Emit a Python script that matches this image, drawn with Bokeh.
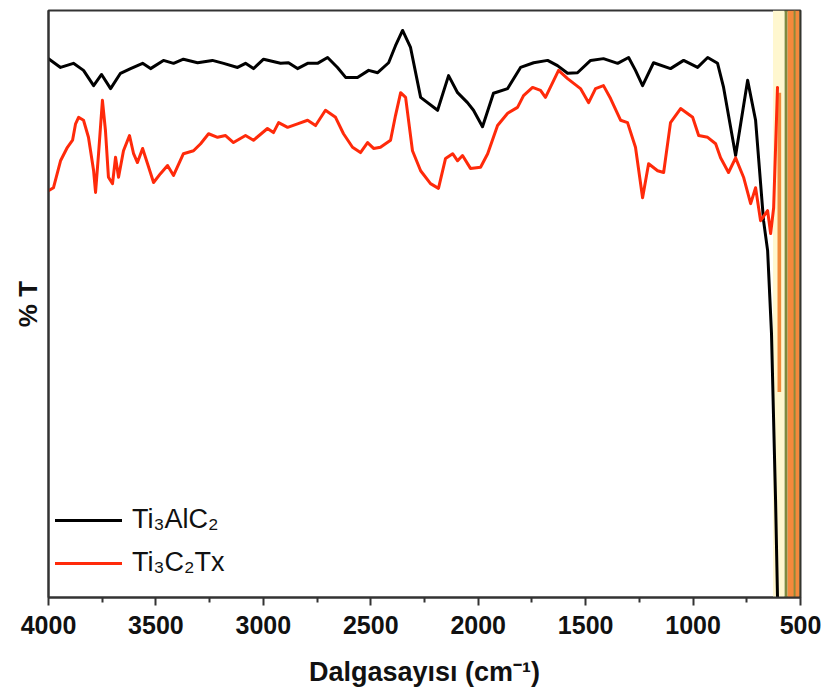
from bokeh.plotting import figure
from bokeh.models import Range1d, Legend, LegendItem, FixedTicker, ColumnDataSource
from bokeh.embed import file_html
from bokeh.resources import INLINE

# Ti3AlC2 spectrum (wavenumber cm-1, %T arbitrary units)
wn_ti3alc2 = [4000, 3944, 3884, 3837, 3790, 3753, 3711, 3665, 3618, 3562, 3525, 3465, 3418,
              3372, 3306, 3237, 3185, 3120, 3083, 3046, 2999, 2920, 2883, 2841, 2794, 2748,
              2701, 2655, 2617, 2562, 2510, 2468, 2417, 2385, 2352, 2315, 2268, 2189, 2138,
              2096, 2050, 2022, 1980, 1929, 1863, 1803, 1742, 1677, 1631, 1584, 1538, 1477,
              1417, 1351, 1300, 1268, 1235, 1184, 1105, 1044, 979, 932, 886, 858, 802, 746,
              709, 672, 653, 635, 616, 607]
t_ti3alc2 = [91.8, 90.3, 91.0, 89.8, 87.2, 89.1, 86.7, 89.3, 90.1, 91.0, 90.1, 91.5, 91.0,
             91.7, 91.1, 91.5, 91.0, 90.3, 91.0, 90.1, 91.7, 91.0, 91.1, 90.1, 91.0, 91.0,
             92.0, 90.3, 88.6, 88.6, 89.8, 89.4, 91.1, 94.0, 96.6, 93.7, 85.2, 83.0, 88.9,
             86.0, 84.3, 83.0, 80.2, 85.9, 86.7, 90.3, 91.1, 91.5, 90.6, 89.3, 89.4, 91.5,
             91.8, 91.0, 92.0, 89.8, 87.2, 91.1, 90.1, 91.5, 90.3, 92.0, 91.0, 86.9, 75.3, 88.1,
             81.3, 64.2, 59.1, 45.0, 16.5, 0.0]

# Ti3C2Tx spectrum
wn_ti3c2tx = [4000, 3977, 3944, 3912, 3888, 3874, 3860, 3837, 3814, 3790, 3781, 3767, 3749,
              3735, 3721, 3702, 3688, 3674, 3651, 3623, 3604, 3586, 3562, 3539, 3511, 3479,
              3446, 3418, 3372, 3325, 3292, 3255, 3213, 3176, 3139, 3083, 3046, 2981, 2953,
              2929, 2887, 2841, 2794, 2757, 2711, 2664, 2627, 2585, 2548, 2515, 2487, 2455,
              2408, 2385, 2361, 2338, 2306, 2268, 2222, 2185, 2152, 2119, 2096, 2073, 2036,
              1989, 1956, 1910, 1863, 1817, 1789, 1747, 1710, 1687, 1626, 1584, 1524, 1486,
              1454, 1417, 1384, 1337, 1305, 1268, 1235, 1207, 1165, 1137, 1105, 1058, 1002,
              974, 932, 895, 872, 835, 802, 765, 732, 709, 686, 653, 639, 625, 607]
t_ti3c2tx = [69.3, 69.8, 74.4, 76.7, 77.9, 80.7, 81.8, 81.3, 78.4, 72.7, 69.0, 75.6, 84.7,
             79.6, 71.6, 70.5, 75.0, 71.6, 76.1, 78.7, 75.6, 74.1, 76.5, 73.9, 70.7, 72.2,
             73.6, 71.9, 75.6, 76.1, 77.3, 79.0, 78.4, 78.7, 77.5, 78.7, 77.9, 79.9, 79.2,
             80.9, 80.1, 80.7, 81.3, 80.4, 83.0, 81.8, 79.0, 76.7, 75.8, 77.5, 76.5, 76.7,
             77.9, 82.1, 86.0, 85.2, 76.1, 72.7, 70.5, 69.7, 74.8, 75.6, 74.4, 75.3, 73.1,
             73.3, 75.6, 80.4, 82.5, 83.5, 85.5, 86.9, 86.4, 85.2, 89.8, 88.4, 86.7, 84.3,
             86.7, 87.2, 85.0, 81.3, 80.9, 76.7, 68.1, 73.9, 72.7, 72.4, 80.9, 83.3, 81.8,
             78.7, 78.4, 77.3, 74.9, 72.4, 74.9, 71.6, 67.1, 69.8, 64.2, 65.9, 62.0, 66.4, 86.9]

# coloured stripes at the low-wavenumber edge
band_left = [628, 607, 574, 560, 532, 505]
band_right = [574, 590, 560, 505, 523, 500]
band_bottom = [0, 35, 0, 0, 0, 0]
band_top = [100, 86, 100, 100, 100, 100]
band_color = ["#FFF7CF", "#F28A3A", "#7E8A3E", "#F4893C", "#8A8A3A", "#3B3F1E"]

x_ticks = [4000, 3500, 3000, 2500, 2000, 1500, 1000, 500]
x_minor = [3750, 3250, 2750, 2250, 1750, 1250, 750]

FONT = "Liberation Sans"

p = figure(width=825, height=700, output_backend="svg", toolbar_location=None,
           x_range=Range1d(4000, 500), y_range=Range1d(0, 100),
           min_border_left=48, min_border_right=25, min_border_top=10, min_border_bottom=103)
p.background_fill_color = "white"
p.border_fill_color = "white"
p.grid.visible = False
p.outline_line_color = "#333333"
p.outline_line_width = 2

bands = ColumnDataSource(dict(left=band_left, right=band_right, bottom=band_bottom,
                              top=band_top, color=band_color))
p.quad(left="left", right="right", bottom="bottom", top="top", fill_color="color",
       line_color=None, source=bands)

r1 = p.line(wn_ti3alc2, t_ti3alc2, line_color="black", line_width=3,
            line_join="round", line_cap="round")
r2 = p.line(wn_ti3c2tx, t_ti3c2tx, line_color="#FF2A0A", line_width=3,
            line_join="round", line_cap="round")

xa = p.xaxis[0]
xa.ticker = FixedTicker(ticks=x_ticks, minor_ticks=x_minor)
xa.axis_label = "Dalgasayısı (cm⁻¹)"
xa.axis_label_text_font = FONT
xa.axis_label_text_font_style = "bold"
xa.axis_label_text_font_size = "27px"
xa.axis_label_text_color = "#111111"
xa.axis_label_standoff = 20
xa.major_label_text_font = FONT
xa.major_label_text_font_style = "bold"
xa.major_label_text_font_size = "25px"
xa.major_label_text_color = "#111111"
xa.major_label_standoff = 10
xa.axis_line_width = 2
xa.axis_line_color = "#333333"
xa.major_tick_out = 8
xa.major_tick_in = 0
xa.minor_tick_out = 5
xa.minor_tick_in = 0
xa.major_tick_line_width = 2
xa.minor_tick_line_width = 2
xa.major_tick_line_color = "#333333"
xa.minor_tick_line_color = "#333333"

ya = p.yaxis[0]
ya.ticker = FixedTicker(ticks=[])
ya.axis_label = "% T"
ya.axis_label_text_font = FONT
ya.axis_label_text_font_style = "bold"
ya.axis_label_text_font_size = "26px"
ya.axis_label_text_color = "#111111"
ya.axis_label_standoff = 6
ya.major_tick_line_color = None
ya.minor_tick_line_color = None
ya.axis_line_width = 2
ya.axis_line_color = "#333333"

legend = Legend(items=[LegendItem(label="Ti₃AlC₂", renderers=[r1]),
                       LegendItem(label="Ti₃C₂Tx", renderers=[r2])],
                location=(3, 15), glyph_width=67, glyph_height=30, label_height=30,
                label_standoff=10, spacing=12, padding=4, margin=0,
                label_text_font=FONT, label_text_font_size="27px", label_text_color="#111111",
                border_line_alpha=0, background_fill_alpha=0)
p.add_layout(legend)

open("out.html", "w").write(file_html(p, INLINE))
